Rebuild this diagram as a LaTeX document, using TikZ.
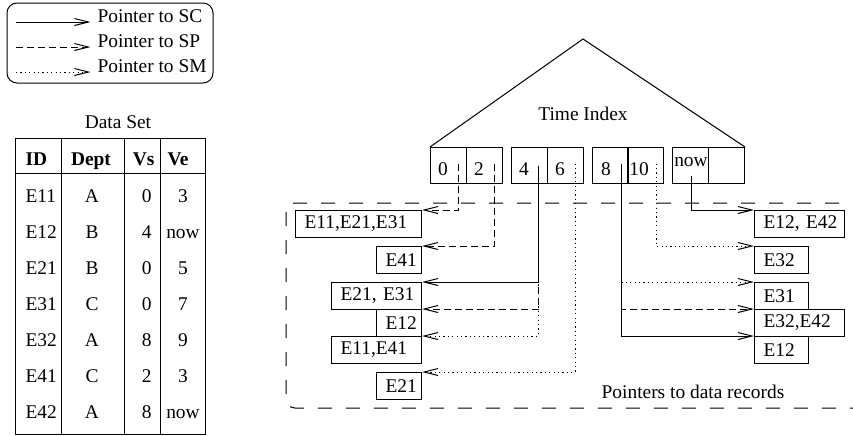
\documentclass[tikz,border=0pt]{standalone}
\usepackage{fontspec}
\setmainfont{Liberation Serif}
\usetikzlibrary{arrows.meta,calc}

\begin{document}
\begin{tikzpicture}[x=0.5pt,y=-0.5pt,
  font=\fontsize{9.7}{11.6}\selectfont, line width=0.5pt,
  ptr/.style={-{Straight Barb[length=7pt,width=3.5pt]}},
  sc/.style={ptr},
  sp/.style={ptr,dash pattern=on 3.5pt off 2pt},
  sm/.style={ptr,dash pattern=on 0.6pt off 1.6pt},
  cell/.style={draw,anchor=north west,minimum width=18pt,minimum height=18pt,inner sep=0pt},
  rec/.style={draw,anchor=north west,inner xsep=4.5pt,inner ysep=0pt,minimum height=13.5pt,align=left},
  tab/.style={inner sep=0pt}]
  \useasboundingbox (0,0) rectangle (853,435);

  % legend
  \draw[rounded corners=5pt] (7,3) rectangle (213,83);
  \node[anchor=base west] (lsc) at (90.5,22) {Pointer to SC};
  \node[anchor=base west] (lsp) at (90.5,47) {Pointer to SP};
  \node[anchor=base west] (lsm) at (90.5,72) {Pointer to SM};
  \coordinate (k1) at (16,22);
  \coordinate (k2) at (16,47);
  \coordinate (k3) at (16,72);
  \draw[sc] (k1) -- (lsc.base west);
  \draw[sp] (k2) -- (lsp.base west);
  \draw[sm] (k3) -- (lsm.base west);

  % data set table
  \node (dstitle) at (118,122) {Data Set};
  \draw (15,138) rectangle (205,434);
  \draw (15,173) -- (205,173);
  \draw (61,138) -- (61,434);
  \draw (124,138) -- (124,434);
  \draw (160,138) -- (160,434);
  \node[tab,anchor=base west] (hid) at (25,165) {\textbf{ID}};
  \node[tab,anchor=base] (hdept) at (91,165) {\textbf{Dept}};
  \node[tab,anchor=base east] (hvs) at (155,165) {\textbf{Vs}};
  \node[tab,anchor=base] (hve) at (178,165) {\textbf{Ve}};
  \foreach \rid/\rdept/\rvs/\rve [count=\i from 0] in
      {E11/A/0/3,E12/B/4/now,E21/B/0/5,E31/C/0/7,E32/A/8/9,E41/C/2/3,E42/A/8/now}{
    \node[tab,anchor=base west] (id\i) at (25,{202+36*\i}) {\rid};
    \node[tab,anchor=base] (dept\i) at (92,{202+36*\i}) {\rdept};
    \node[tab,anchor=base east] (vs\i) at (152,{202+36*\i}) {\rvs};
    \node[tab,anchor=base] (ve\i) at (183,{202+36*\i}) {\rve};
  }

  % time index
  \foreach \x/\n in {430/c0,466/c2,511/c4,547/c6,592/c8,627/c10,672/cnow,708/cend}
    \node[cell] (\n) at (\x,147) {};
  \coordinate (tip) at (583,39);
  \draw (c0.north west) -- (tip) -- (cend.north east);
  \node (tindex) at (583,114) {Time Index};
  \node[anchor=base] (t0) at (443,175) {0};
  \node[anchor=base] (t2) at (479,175) {2};
  \node[anchor=base] (t4) at (524,175) {4};
  \node[anchor=base] (t6) at (560,175) {6};
  \node[anchor=base] (t8) at (606,175) {8};
  \node[anchor=base] (t10) at (639,175) {10};
  \node[anchor=base] (tnow) at (691,166) {now};

  % data record area
  \begin{scope}
    \clip (0,0) rectangle (853,435);
    \draw[rounded corners=4.5pt,dash pattern=on 7pt off 7pt] (286,203) rectangle (900,408);
  \end{scope}
  \node (precs) at (693,392) {Pointers to data records};

  \node[rec,text width=54pt] (l1) at (295,210) {E11,E21,E31};
  \node[rec,text width=13.5pt] (l2) at (376,246) {E41};
  \node[rec,text width=36pt] (l3) at (331,282) {\mbox{E21, E31}};
  \node[rec,text width=13.5pt] (l4) at (376,309) {E12};
  \node[rec,text width=36pt] (l5) at (331,336) {E11,E41};
  \node[rec,text width=13.5pt] (l6) at (376,372) {E21};
  \node[rec,text width=36pt] (r1) at (754,210) {\mbox{E12, E42}};
  \node[rec,text width=18pt] (r2) at (754,246) {E32};
  \node[rec,text width=18pt] (r3) at (754,282) {E31};
  \node[rec,text width=36pt] (r4) at (754,309) {E32,E42};
  \node[rec,text width=18pt] (r5) at (754,336) {E12};

  % pointers
  \coordinate (p0) at ($(c0.east)+(-9,-2)$);
  \coordinate (p2) at ($(c2.east)+(-9,-2)$);
  \coordinate (p4) at ($(c4.east)+(-10,0)$);
  \coordinate (p6) at ($(c6.east)+(-9,-2)$);
  \coordinate (p8) at ($(c8.east)+(-8,-2)$);
  \coordinate (p10) at ($(c10.east)+(-8,-2)$);
  \coordinate (pnow) at ($(cnow.center)+(1,10)$);
  \draw[sp] (p0) |- (l1.north east);
  \draw[sp] (p2) |- (l2.north east);
  \draw[sc] (p4) |- (l3.north east);
  \draw[sp] (p4) |- (l4.north east);
  \draw[sm] (p4) |- (l5.north east);
  \draw[sm] (p6) |- (l6.north east);
  \draw[sc] (pnow) |- (r1.north west);
  \draw[sm] (p10) |- (r2.north west);
  \draw[sm] (p8) |- (r3.north west);
  \draw[sp] (p8) |- (r4.north west);
  \draw[sc] (p8) |- (r5.north west);
\end{tikzpicture}
\end{document}
